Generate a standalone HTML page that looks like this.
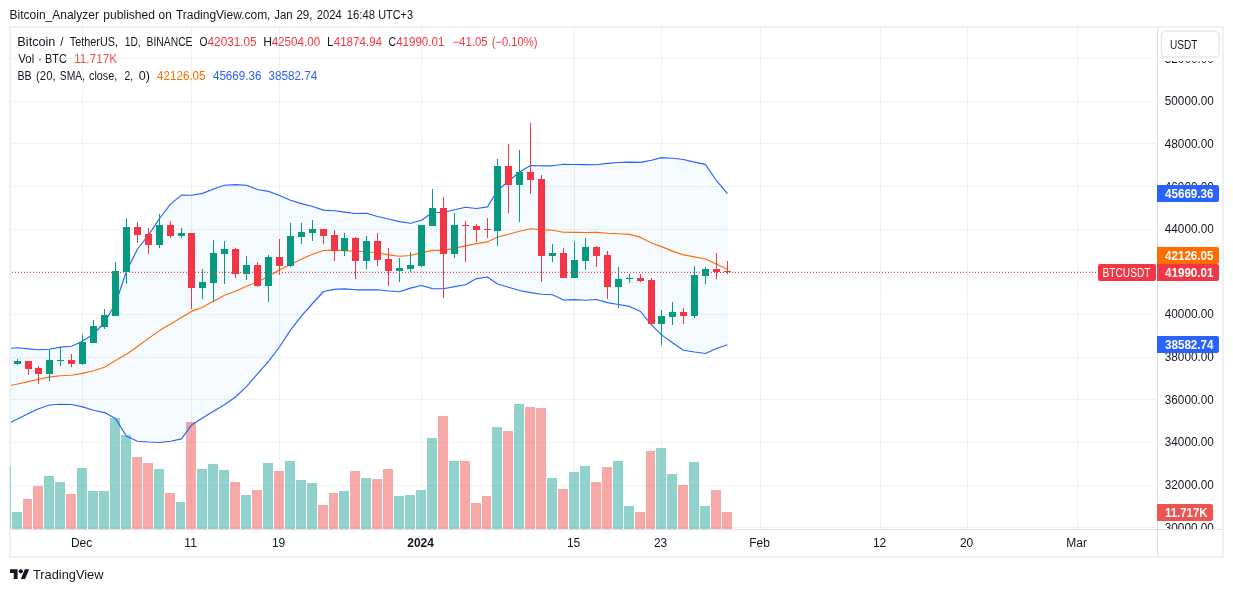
<!DOCTYPE html>
<html><head><meta charset="utf-8"><title>BTCUSDT</title>
<style>html,body{margin:0;padding:0;background:#fff;width:1233px;height:592px;overflow:hidden}</style></head>
<body>
<svg width="1233" height="592" viewBox="0 0 1233 592" style="position:absolute;left:0;top:0;will-change:transform;font-family:'Liberation Sans',sans-serif">
<rect x="0" y="0" width="1233" height="592" fill="#fff"/>
<rect x="10" y="27" width="1213" height="530" fill="#fff" stroke="#eff0f5" stroke-width="2" shape-rendering="crispEdges"/>
<defs><clipPath id="pane"><rect x="11" y="28" width="1146" height="501"/></clipPath><clipPath id="axis"><rect x="1158" y="28" width="64" height="501"/></clipPath></defs>
<g shape-rendering="crispEdges" fill="#222b28" fill-opacity="0.065">
<rect x="11" y="58" width="1146" height="1"/>
<rect x="11" y="101" width="1146" height="1"/>
<rect x="11" y="143" width="1146" height="1"/>
<rect x="11" y="186" width="1146" height="1"/>
<rect x="11" y="229" width="1146" height="1"/>
<rect x="11" y="271" width="1146" height="1"/>
<rect x="11" y="314" width="1146" height="1"/>
<rect x="11" y="357" width="1146" height="1"/>
<rect x="11" y="399" width="1146" height="1"/>
<rect x="11" y="442" width="1146" height="1"/>
<rect x="11" y="485" width="1146" height="1"/>
<rect x="11" y="527" width="1146" height="1"/>
<rect x="82" y="28" width="1" height="501"/>
<rect x="191" y="28" width="1" height="501"/>
<rect x="279" y="28" width="1" height="501"/>
<rect x="421" y="28" width="1" height="501"/>
<rect x="574" y="28" width="1" height="501"/>
<rect x="661" y="28" width="1" height="501"/>
<rect x="760" y="28" width="1" height="501"/>
<rect x="880" y="28" width="1" height="501"/>
<rect x="967" y="28" width="1" height="501"/>
<rect x="1077" y="28" width="1" height="501"/>
</g>
<g shape-rendering="crispEdges" clip-path="url(#pane)">
<rect x="1" y="466" width="10" height="63" fill="#26a69a" fill-opacity="0.5"/>
<rect x="12" y="512" width="10" height="17" fill="#26a69a" fill-opacity="0.5"/>
<rect x="23" y="499" width="9" height="30" fill="#ef5350" fill-opacity="0.5"/>
<rect x="33" y="486" width="10" height="43" fill="#ef5350" fill-opacity="0.5"/>
<rect x="44" y="476" width="10" height="53" fill="#26a69a" fill-opacity="0.5"/>
<rect x="55" y="482" width="10" height="47" fill="#26a69a" fill-opacity="0.5"/>
<rect x="66" y="494" width="10" height="35" fill="#ef5350" fill-opacity="0.5"/>
<rect x="77" y="468" width="10" height="61" fill="#26a69a" fill-opacity="0.5"/>
<rect x="88" y="491" width="10" height="38" fill="#26a69a" fill-opacity="0.5"/>
<rect x="99" y="491" width="10" height="38" fill="#26a69a" fill-opacity="0.5"/>
<rect x="110" y="418" width="10" height="111" fill="#26a69a" fill-opacity="0.5"/>
<rect x="121" y="435" width="10" height="94" fill="#26a69a" fill-opacity="0.5"/>
<rect x="132" y="457" width="10" height="72" fill="#ef5350" fill-opacity="0.5"/>
<rect x="143" y="463" width="10" height="66" fill="#ef5350" fill-opacity="0.5"/>
<rect x="154" y="469" width="10" height="60" fill="#26a69a" fill-opacity="0.5"/>
<rect x="165" y="493" width="10" height="36" fill="#ef5350" fill-opacity="0.5"/>
<rect x="176" y="502" width="9" height="27" fill="#26a69a" fill-opacity="0.5"/>
<rect x="186" y="422" width="10" height="107" fill="#ef5350" fill-opacity="0.5"/>
<rect x="197" y="469" width="10" height="60" fill="#26a69a" fill-opacity="0.5"/>
<rect x="208" y="464" width="10" height="65" fill="#26a69a" fill-opacity="0.5"/>
<rect x="219" y="470" width="10" height="59" fill="#26a69a" fill-opacity="0.5"/>
<rect x="230" y="482" width="10" height="47" fill="#ef5350" fill-opacity="0.5"/>
<rect x="241" y="495" width="10" height="34" fill="#26a69a" fill-opacity="0.5"/>
<rect x="252" y="490" width="10" height="39" fill="#ef5350" fill-opacity="0.5"/>
<rect x="263" y="463" width="10" height="66" fill="#26a69a" fill-opacity="0.5"/>
<rect x="274" y="471" width="10" height="58" fill="#ef5350" fill-opacity="0.5"/>
<rect x="285" y="461" width="10" height="68" fill="#26a69a" fill-opacity="0.5"/>
<rect x="296" y="480" width="10" height="49" fill="#26a69a" fill-opacity="0.5"/>
<rect x="307" y="483" width="10" height="46" fill="#26a69a" fill-opacity="0.5"/>
<rect x="318" y="505" width="10" height="24" fill="#ef5350" fill-opacity="0.5"/>
<rect x="329" y="493" width="9" height="36" fill="#ef5350" fill-opacity="0.5"/>
<rect x="339" y="491" width="10" height="38" fill="#26a69a" fill-opacity="0.5"/>
<rect x="350" y="471" width="10" height="58" fill="#ef5350" fill-opacity="0.5"/>
<rect x="361" y="478" width="10" height="51" fill="#26a69a" fill-opacity="0.5"/>
<rect x="372" y="479" width="10" height="50" fill="#ef5350" fill-opacity="0.5"/>
<rect x="383" y="469" width="10" height="60" fill="#ef5350" fill-opacity="0.5"/>
<rect x="394" y="496" width="10" height="33" fill="#26a69a" fill-opacity="0.5"/>
<rect x="405" y="495" width="10" height="34" fill="#26a69a" fill-opacity="0.5"/>
<rect x="416" y="490" width="10" height="39" fill="#26a69a" fill-opacity="0.5"/>
<rect x="427" y="438" width="10" height="91" fill="#26a69a" fill-opacity="0.5"/>
<rect x="438" y="416" width="10" height="113" fill="#ef5350" fill-opacity="0.5"/>
<rect x="449" y="461" width="10" height="68" fill="#26a69a" fill-opacity="0.5"/>
<rect x="460" y="461" width="10" height="68" fill="#ef5350" fill-opacity="0.5"/>
<rect x="471" y="503" width="10" height="26" fill="#ef5350" fill-opacity="0.5"/>
<rect x="482" y="496" width="9" height="33" fill="#ef5350" fill-opacity="0.5"/>
<rect x="492" y="427" width="10" height="102" fill="#26a69a" fill-opacity="0.5"/>
<rect x="503" y="431" width="10" height="98" fill="#ef5350" fill-opacity="0.5"/>
<rect x="514" y="404" width="10" height="125" fill="#26a69a" fill-opacity="0.5"/>
<rect x="525" y="407" width="10" height="122" fill="#ef5350" fill-opacity="0.5"/>
<rect x="536" y="408" width="10" height="121" fill="#ef5350" fill-opacity="0.5"/>
<rect x="547" y="478" width="10" height="51" fill="#26a69a" fill-opacity="0.5"/>
<rect x="558" y="489" width="10" height="40" fill="#ef5350" fill-opacity="0.5"/>
<rect x="569" y="472" width="10" height="57" fill="#26a69a" fill-opacity="0.5"/>
<rect x="580" y="466" width="10" height="63" fill="#26a69a" fill-opacity="0.5"/>
<rect x="591" y="482" width="10" height="47" fill="#ef5350" fill-opacity="0.5"/>
<rect x="602" y="467" width="10" height="62" fill="#ef5350" fill-opacity="0.5"/>
<rect x="613" y="461" width="10" height="68" fill="#26a69a" fill-opacity="0.5"/>
<rect x="624" y="506" width="10" height="23" fill="#26a69a" fill-opacity="0.5"/>
<rect x="635" y="512" width="10" height="17" fill="#ef5350" fill-opacity="0.5"/>
<rect x="646" y="451" width="9" height="78" fill="#ef5350" fill-opacity="0.5"/>
<rect x="656" y="448" width="10" height="81" fill="#26a69a" fill-opacity="0.5"/>
<rect x="667" y="474" width="10" height="55" fill="#26a69a" fill-opacity="0.5"/>
<rect x="678" y="485" width="10" height="44" fill="#ef5350" fill-opacity="0.5"/>
<rect x="689" y="462" width="10" height="67" fill="#26a69a" fill-opacity="0.5"/>
<rect x="700" y="506" width="10" height="23" fill="#26a69a" fill-opacity="0.5"/>
<rect x="711" y="490" width="10" height="39" fill="#ef5350" fill-opacity="0.5"/>
<rect x="722" y="512" width="10" height="17" fill="#ef5350" fill-opacity="0.5"/>
</g>
<rect x="10" y="466" width="1" height="63" fill="#92d2cc" shape-rendering="crispEdges"/>
<g clip-path="url(#pane)">
<polygon points="6.0,348.6 17.5,347.8 28.5,348.9 38.5,349.7 49.5,349.2 60.5,347.1 71.5,346.2 82.5,341.3 93.5,334.0 104.5,322.5 115.5,303.5 126.5,271.3 137.5,249.0 148.5,235.1 159.5,218.5 170.5,204.1 181.5,195.1 191.5,195.3 202.5,193.4 213.5,189.0 224.5,185.3 235.5,184.6 246.5,185.3 257.5,189.5 268.5,191.4 279.5,195.5 290.5,200.2 301.5,203.6 312.5,206.5 323.5,210.1 334.5,210.7 344.5,212.1 355.5,213.5 366.5,213.2 377.5,216.5 388.5,219.0 399.5,221.6 410.5,223.2 421.5,220.3 432.5,212.5 443.5,212.5 454.5,209.8 465.5,207.2 476.5,208.5 487.5,206.9 497.5,190.5 508.5,181.3 519.5,172.0 530.5,165.5 541.5,165.8 552.5,165.8 563.5,164.3 574.5,164.5 585.5,164.6 596.5,164.8 607.5,163.4 618.5,162.5 629.5,162.1 640.5,162.4 651.5,160.2 661.5,157.6 672.5,158.2 683.5,159.5 694.5,162.1 705.5,164.4 716.5,180.7 727.5,193.6 727.5,344.8 716.5,348.5 705.5,353.5 694.5,352.0 683.5,350.2 672.5,342.7 661.5,334.9 651.5,324.9 640.5,311.5 629.5,306.4 618.5,304.5 607.5,302.6 596.5,299.5 585.5,300.2 574.5,299.6 563.5,300.0 552.5,294.8 541.5,294.3 530.5,292.6 519.5,290.5 508.5,287.2 497.5,284.0 487.5,277.0 476.5,278.6 465.5,284.7 454.5,286.6 443.5,288.8 432.5,288.6 421.5,285.5 410.5,288.1 399.5,291.7 388.5,291.0 377.5,289.8 366.5,289.8 355.5,289.8 344.5,288.9 334.5,289.4 323.5,291.5 312.5,303.5 301.5,315.8 290.5,330.1 279.5,347.0 268.5,361.3 257.5,373.8 246.5,386.6 235.5,397.0 224.5,404.8 213.5,411.3 202.5,418.0 191.5,425.1 181.5,438.9 170.5,441.2 159.5,442.5 148.5,442.0 137.5,441.2 126.5,436.3 115.5,418.6 104.5,412.6 93.5,410.2 82.5,406.9 71.5,404.5 60.5,404.3 49.5,405.0 38.5,408.7 28.5,413.4 17.5,419.1 6.0,424.5" fill="#2196f3" fill-opacity="0.05"/>
<polyline points="6.0,348.6 17.5,347.8 28.5,348.9 38.5,349.7 49.5,349.2 60.5,347.1 71.5,346.2 82.5,341.3 93.5,334.0 104.5,322.5 115.5,303.5 126.5,271.3 137.5,249.0 148.5,235.1 159.5,218.5 170.5,204.1 181.5,195.1 191.5,195.3 202.5,193.4 213.5,189.0 224.5,185.3 235.5,184.6 246.5,185.3 257.5,189.5 268.5,191.4 279.5,195.5 290.5,200.2 301.5,203.6 312.5,206.5 323.5,210.1 334.5,210.7 344.5,212.1 355.5,213.5 366.5,213.2 377.5,216.5 388.5,219.0 399.5,221.6 410.5,223.2 421.5,220.3 432.5,212.5 443.5,212.5 454.5,209.8 465.5,207.2 476.5,208.5 487.5,206.9 497.5,190.5 508.5,181.3 519.5,172.0 530.5,165.5 541.5,165.8 552.5,165.8 563.5,164.3 574.5,164.5 585.5,164.6 596.5,164.8 607.5,163.4 618.5,162.5 629.5,162.1 640.5,162.4 651.5,160.2 661.5,157.6 672.5,158.2 683.5,159.5 694.5,162.1 705.5,164.4 716.5,180.7 727.5,193.6" fill="none" stroke="#2962ff" stroke-width="1.15" stroke-linejoin="round"/>
<polyline points="6.0,424.5 17.5,419.1 28.5,413.4 38.5,408.7 49.5,405.0 60.5,404.3 71.5,404.5 82.5,406.9 93.5,410.2 104.5,412.6 115.5,418.6 126.5,436.3 137.5,441.2 148.5,442.0 159.5,442.5 170.5,441.2 181.5,438.9 191.5,425.1 202.5,418.0 213.5,411.3 224.5,404.8 235.5,397.0 246.5,386.6 257.5,373.8 268.5,361.3 279.5,347.0 290.5,330.1 301.5,315.8 312.5,303.5 323.5,291.5 334.5,289.4 344.5,288.9 355.5,289.8 366.5,289.8 377.5,289.8 388.5,291.0 399.5,291.7 410.5,288.1 421.5,285.5 432.5,288.6 443.5,288.8 454.5,286.6 465.5,284.7 476.5,278.6 487.5,277.0 497.5,284.0 508.5,287.2 519.5,290.5 530.5,292.6 541.5,294.3 552.5,294.8 563.5,300.0 574.5,299.6 585.5,300.2 596.5,299.5 607.5,302.6 618.5,304.5 629.5,306.4 640.5,311.5 651.5,324.9 661.5,334.9 672.5,342.7 683.5,350.2 694.5,352.0 705.5,353.5 716.5,348.5 727.5,344.8" fill="none" stroke="#2962ff" stroke-width="1.15" stroke-linejoin="round"/>
<polyline points="6.0,386.2 17.5,384.0 28.5,381.6 38.5,379.2 49.5,377.1 60.5,375.8 71.5,375.2 82.5,373.4 93.5,370.8 104.5,367.2 115.5,360.6 126.5,354.3 137.5,346.5 148.5,338.4 159.5,330.6 170.5,324.1 181.5,317.6 191.5,311.4 202.5,307.2 213.5,301.2 224.5,295.3 235.5,291.2 246.5,286.3 257.5,281.9 268.5,276.3 279.5,270.1 290.5,264.5 301.5,259.0 312.5,254.3 323.5,250.5 334.5,250.1 344.5,250.8 355.5,251.3 366.5,251.7 377.5,252.8 388.5,254.9 399.5,256.3 410.5,255.5 421.5,252.6 432.5,250.4 443.5,250.4 454.5,248.1 465.5,245.9 476.5,243.6 487.5,241.9 497.5,237.0 508.5,234.2 519.5,231.3 530.5,228.8 541.5,229.9 552.5,230.2 563.5,232.3 574.5,232.4 585.5,232.5 596.5,232.4 607.5,233.2 618.5,233.7 629.5,234.4 640.5,237.4 651.5,243.0 661.5,246.6 672.5,251.1 683.5,254.9 694.5,256.9 705.5,259.0 716.5,264.2 727.5,269.2" fill="none" stroke="#ff6d00" stroke-width="1.15" stroke-linejoin="round"/>
</g>
<g shape-rendering="crispEdges">
<rect x="17" y="359" width="1" height="6" fill="#089981"/>
<rect x="14" y="361" width="7" height="3" fill="#089981"/>
<rect x="28" y="361" width="1" height="14" fill="#f23645"/>
<rect x="25" y="361" width="7" height="8" fill="#f23645"/>
<rect x="38" y="366" width="1" height="18" fill="#f23645"/>
<rect x="35" y="368" width="7" height="6" fill="#f23645"/>
<rect x="49" y="349" width="1" height="32" fill="#089981"/>
<rect x="46" y="360" width="7" height="14" fill="#089981"/>
<rect x="60" y="347" width="1" height="19" fill="#089981"/>
<rect x="57" y="360" width="7" height="1" fill="#089981"/>
<rect x="71" y="354" width="1" height="13" fill="#f23645"/>
<rect x="68" y="360" width="7" height="4" fill="#f23645"/>
<rect x="82" y="335" width="1" height="30" fill="#089981"/>
<rect x="79" y="342" width="7" height="22" fill="#089981"/>
<rect x="93" y="320" width="1" height="23" fill="#089981"/>
<rect x="90" y="326" width="7" height="17" fill="#089981"/>
<rect x="104" y="309" width="1" height="20" fill="#089981"/>
<rect x="101" y="315" width="7" height="12" fill="#089981"/>
<rect x="115" y="262" width="1" height="54" fill="#089981"/>
<rect x="112" y="271" width="7" height="45" fill="#089981"/>
<rect x="126" y="218" width="1" height="66" fill="#089981"/>
<rect x="123" y="227" width="7" height="45" fill="#089981"/>
<rect x="137" y="222" width="1" height="21" fill="#f23645"/>
<rect x="134" y="227" width="7" height="8" fill="#f23645"/>
<rect x="148" y="228" width="1" height="26" fill="#f23645"/>
<rect x="145" y="234" width="7" height="11" fill="#f23645"/>
<rect x="159" y="214" width="1" height="34" fill="#089981"/>
<rect x="156" y="225" width="7" height="20" fill="#089981"/>
<rect x="170" y="221" width="1" height="17" fill="#f23645"/>
<rect x="167" y="225" width="7" height="11" fill="#f23645"/>
<rect x="181" y="228" width="1" height="10" fill="#089981"/>
<rect x="178" y="233" width="7" height="3" fill="#089981"/>
<rect x="191" y="233" width="1" height="76" fill="#f23645"/>
<rect x="188" y="233" width="7" height="55" fill="#f23645"/>
<rect x="202" y="269" width="1" height="30" fill="#089981"/>
<rect x="199" y="282" width="7" height="6" fill="#089981"/>
<rect x="213" y="240" width="1" height="62" fill="#089981"/>
<rect x="210" y="253" width="7" height="30" fill="#089981"/>
<rect x="224" y="241" width="1" height="43" fill="#089981"/>
<rect x="221" y="249" width="7" height="5" fill="#089981"/>
<rect x="235" y="248" width="1" height="30" fill="#f23645"/>
<rect x="232" y="249" width="7" height="25" fill="#f23645"/>
<rect x="246" y="256" width="1" height="24" fill="#089981"/>
<rect x="243" y="265" width="7" height="9" fill="#089981"/>
<rect x="257" y="262" width="1" height="25" fill="#f23645"/>
<rect x="254" y="265" width="7" height="21" fill="#f23645"/>
<rect x="268" y="255" width="1" height="47" fill="#089981"/>
<rect x="265" y="257" width="7" height="29" fill="#089981"/>
<rect x="279" y="239" width="1" height="36" fill="#f23645"/>
<rect x="276" y="257" width="7" height="9" fill="#f23645"/>
<rect x="290" y="223" width="1" height="44" fill="#089981"/>
<rect x="287" y="236" width="7" height="30" fill="#089981"/>
<rect x="301" y="223" width="1" height="21" fill="#089981"/>
<rect x="298" y="232" width="7" height="5" fill="#089981"/>
<rect x="312" y="220" width="1" height="21" fill="#089981"/>
<rect x="309" y="229" width="7" height="4" fill="#089981"/>
<rect x="323" y="229" width="1" height="15" fill="#f23645"/>
<rect x="320" y="229" width="7" height="7" fill="#f23645"/>
<rect x="334" y="230" width="1" height="31" fill="#f23645"/>
<rect x="331" y="235" width="7" height="16" fill="#f23645"/>
<rect x="344" y="233" width="1" height="23" fill="#089981"/>
<rect x="341" y="238" width="7" height="13" fill="#089981"/>
<rect x="355" y="237" width="1" height="42" fill="#f23645"/>
<rect x="352" y="238" width="7" height="23" fill="#f23645"/>
<rect x="366" y="236" width="1" height="33" fill="#089981"/>
<rect x="363" y="241" width="7" height="20" fill="#089981"/>
<rect x="377" y="233" width="1" height="33" fill="#f23645"/>
<rect x="374" y="241" width="7" height="19" fill="#f23645"/>
<rect x="388" y="248" width="1" height="38" fill="#f23645"/>
<rect x="385" y="259" width="7" height="12" fill="#f23645"/>
<rect x="399" y="258" width="1" height="24" fill="#089981"/>
<rect x="396" y="268" width="7" height="3" fill="#089981"/>
<rect x="410" y="252" width="1" height="20" fill="#089981"/>
<rect x="407" y="265" width="7" height="4" fill="#089981"/>
<rect x="421" y="225" width="1" height="42" fill="#089981"/>
<rect x="418" y="225" width="7" height="41" fill="#089981"/>
<rect x="432" y="189" width="1" height="37" fill="#089981"/>
<rect x="429" y="208" width="7" height="18" fill="#089981"/>
<rect x="443" y="197" width="1" height="101" fill="#f23645"/>
<rect x="440" y="208" width="7" height="46" fill="#f23645"/>
<rect x="454" y="213" width="1" height="45" fill="#089981"/>
<rect x="451" y="225" width="7" height="29" fill="#089981"/>
<rect x="465" y="221" width="1" height="41" fill="#f23645"/>
<rect x="462" y="225" width="7" height="1" fill="#f23645"/>
<rect x="476" y="224" width="1" height="18" fill="#f23645"/>
<rect x="473" y="226" width="7" height="4" fill="#f23645"/>
<rect x="487" y="218" width="1" height="20" fill="#f23645"/>
<rect x="484" y="229" width="7" height="1" fill="#f23645"/>
<rect x="497" y="159" width="1" height="87" fill="#089981"/>
<rect x="494" y="166" width="7" height="65" fill="#089981"/>
<rect x="508" y="144" width="1" height="69" fill="#f23645"/>
<rect x="505" y="166" width="7" height="19" fill="#f23645"/>
<rect x="519" y="150" width="1" height="72" fill="#089981"/>
<rect x="516" y="172" width="7" height="13" fill="#089981"/>
<rect x="530" y="123" width="1" height="71" fill="#f23645"/>
<rect x="527" y="172" width="7" height="8" fill="#f23645"/>
<rect x="541" y="175" width="1" height="107" fill="#f23645"/>
<rect x="538" y="179" width="7" height="77" fill="#f23645"/>
<rect x="552" y="244" width="1" height="18" fill="#089981"/>
<rect x="549" y="253" width="7" height="3" fill="#089981"/>
<rect x="563" y="248" width="1" height="30" fill="#f23645"/>
<rect x="560" y="253" width="7" height="25" fill="#f23645"/>
<rect x="574" y="241" width="1" height="37" fill="#089981"/>
<rect x="571" y="260" width="7" height="18" fill="#089981"/>
<rect x="585" y="238" width="1" height="32" fill="#089981"/>
<rect x="582" y="247" width="7" height="14" fill="#089981"/>
<rect x="596" y="246" width="1" height="21" fill="#f23645"/>
<rect x="593" y="247" width="7" height="9" fill="#f23645"/>
<rect x="607" y="251" width="1" height="48" fill="#f23645"/>
<rect x="604" y="255" width="7" height="32" fill="#f23645"/>
<rect x="618" y="267" width="1" height="41" fill="#089981"/>
<rect x="615" y="279" width="7" height="8" fill="#089981"/>
<rect x="629" y="274" width="1" height="9" fill="#089981"/>
<rect x="626" y="278" width="7" height="1" fill="#089981"/>
<rect x="640" y="274" width="1" height="8" fill="#f23645"/>
<rect x="637" y="278" width="7" height="3" fill="#f23645"/>
<rect x="651" y="278" width="1" height="47" fill="#f23645"/>
<rect x="648" y="280" width="7" height="44" fill="#f23645"/>
<rect x="661" y="310" width="1" height="35" fill="#089981"/>
<rect x="658" y="316" width="7" height="8" fill="#089981"/>
<rect x="672" y="302" width="1" height="23" fill="#089981"/>
<rect x="669" y="312" width="7" height="5" fill="#089981"/>
<rect x="683" y="308" width="1" height="16" fill="#f23645"/>
<rect x="680" y="312" width="7" height="4" fill="#f23645"/>
<rect x="694" y="266" width="1" height="52" fill="#089981"/>
<rect x="691" y="275" width="7" height="41" fill="#089981"/>
<rect x="705" y="267" width="1" height="17" fill="#089981"/>
<rect x="702" y="269" width="7" height="7" fill="#089981"/>
<rect x="716" y="253" width="1" height="26" fill="#f23645"/>
<rect x="713" y="269" width="7" height="3" fill="#f23645"/>
<rect x="727" y="261" width="1" height="13" fill="#f23645"/>
<rect x="724" y="271" width="7" height="1" fill="#f23645"/>
<rect x="12" y="272" width="1" height="1" fill="#f23645"/>
<rect x="15" y="272" width="1" height="1" fill="#f23645"/>
<rect x="18" y="272" width="1" height="1" fill="#f23645"/>
<rect x="21" y="272" width="1" height="1" fill="#f23645"/>
<rect x="24" y="272" width="1" height="1" fill="#f23645"/>
<rect x="27" y="272" width="1" height="1" fill="#f23645"/>
<rect x="30" y="272" width="1" height="1" fill="#f23645"/>
<rect x="33" y="272" width="1" height="1" fill="#f23645"/>
<rect x="36" y="272" width="1" height="1" fill="#f23645"/>
<rect x="39" y="272" width="1" height="1" fill="#f23645"/>
<rect x="42" y="272" width="1" height="1" fill="#f23645"/>
<rect x="45" y="272" width="1" height="1" fill="#f23645"/>
<rect x="48" y="272" width="1" height="1" fill="#f23645"/>
<rect x="51" y="272" width="1" height="1" fill="#f23645"/>
<rect x="54" y="272" width="1" height="1" fill="#f23645"/>
<rect x="57" y="272" width="1" height="1" fill="#f23645"/>
<rect x="60" y="272" width="1" height="1" fill="#f23645"/>
<rect x="63" y="272" width="1" height="1" fill="#f23645"/>
<rect x="66" y="272" width="1" height="1" fill="#f23645"/>
<rect x="69" y="272" width="1" height="1" fill="#f23645"/>
<rect x="72" y="272" width="1" height="1" fill="#f23645"/>
<rect x="75" y="272" width="1" height="1" fill="#f23645"/>
<rect x="78" y="272" width="1" height="1" fill="#f23645"/>
<rect x="81" y="272" width="1" height="1" fill="#f23645"/>
<rect x="84" y="272" width="1" height="1" fill="#f23645"/>
<rect x="87" y="272" width="1" height="1" fill="#f23645"/>
<rect x="90" y="272" width="1" height="1" fill="#f23645"/>
<rect x="93" y="272" width="1" height="1" fill="#f23645"/>
<rect x="96" y="272" width="1" height="1" fill="#f23645"/>
<rect x="99" y="272" width="1" height="1" fill="#f23645"/>
<rect x="102" y="272" width="1" height="1" fill="#f23645"/>
<rect x="105" y="272" width="1" height="1" fill="#f23645"/>
<rect x="108" y="272" width="1" height="1" fill="#f23645"/>
<rect x="111" y="272" width="1" height="1" fill="#f23645"/>
<rect x="114" y="272" width="1" height="1" fill="#f23645"/>
<rect x="117" y="272" width="1" height="1" fill="#f23645"/>
<rect x="120" y="272" width="1" height="1" fill="#f23645"/>
<rect x="123" y="272" width="1" height="1" fill="#f23645"/>
<rect x="126" y="272" width="1" height="1" fill="#f23645"/>
<rect x="129" y="272" width="1" height="1" fill="#f23645"/>
<rect x="132" y="272" width="1" height="1" fill="#f23645"/>
<rect x="135" y="272" width="1" height="1" fill="#f23645"/>
<rect x="138" y="272" width="1" height="1" fill="#f23645"/>
<rect x="141" y="272" width="1" height="1" fill="#f23645"/>
<rect x="144" y="272" width="1" height="1" fill="#f23645"/>
<rect x="147" y="272" width="1" height="1" fill="#f23645"/>
<rect x="150" y="272" width="1" height="1" fill="#f23645"/>
<rect x="153" y="272" width="1" height="1" fill="#f23645"/>
<rect x="156" y="272" width="1" height="1" fill="#f23645"/>
<rect x="159" y="272" width="1" height="1" fill="#f23645"/>
<rect x="162" y="272" width="1" height="1" fill="#f23645"/>
<rect x="165" y="272" width="1" height="1" fill="#f23645"/>
<rect x="168" y="272" width="1" height="1" fill="#f23645"/>
<rect x="171" y="272" width="1" height="1" fill="#f23645"/>
<rect x="174" y="272" width="1" height="1" fill="#f23645"/>
<rect x="177" y="272" width="1" height="1" fill="#f23645"/>
<rect x="180" y="272" width="1" height="1" fill="#f23645"/>
<rect x="183" y="272" width="1" height="1" fill="#f23645"/>
<rect x="186" y="272" width="1" height="1" fill="#f23645"/>
<rect x="189" y="272" width="1" height="1" fill="#f23645"/>
<rect x="192" y="272" width="1" height="1" fill="#f23645"/>
<rect x="195" y="272" width="1" height="1" fill="#f23645"/>
<rect x="198" y="272" width="1" height="1" fill="#f23645"/>
<rect x="201" y="272" width="1" height="1" fill="#f23645"/>
<rect x="204" y="272" width="1" height="1" fill="#f23645"/>
<rect x="207" y="272" width="1" height="1" fill="#f23645"/>
<rect x="210" y="272" width="1" height="1" fill="#f23645"/>
<rect x="213" y="272" width="1" height="1" fill="#f23645"/>
<rect x="216" y="272" width="1" height="1" fill="#f23645"/>
<rect x="219" y="272" width="1" height="1" fill="#f23645"/>
<rect x="222" y="272" width="1" height="1" fill="#f23645"/>
<rect x="225" y="272" width="1" height="1" fill="#f23645"/>
<rect x="228" y="272" width="1" height="1" fill="#f23645"/>
<rect x="231" y="272" width="1" height="1" fill="#f23645"/>
<rect x="234" y="272" width="1" height="1" fill="#f23645"/>
<rect x="237" y="272" width="1" height="1" fill="#f23645"/>
<rect x="240" y="272" width="1" height="1" fill="#f23645"/>
<rect x="243" y="272" width="1" height="1" fill="#f23645"/>
<rect x="246" y="272" width="1" height="1" fill="#f23645"/>
<rect x="249" y="272" width="1" height="1" fill="#f23645"/>
<rect x="252" y="272" width="1" height="1" fill="#f23645"/>
<rect x="255" y="272" width="1" height="1" fill="#f23645"/>
<rect x="258" y="272" width="1" height="1" fill="#f23645"/>
<rect x="261" y="272" width="1" height="1" fill="#f23645"/>
<rect x="264" y="272" width="1" height="1" fill="#f23645"/>
<rect x="267" y="272" width="1" height="1" fill="#f23645"/>
<rect x="270" y="272" width="1" height="1" fill="#f23645"/>
<rect x="273" y="272" width="1" height="1" fill="#f23645"/>
<rect x="276" y="272" width="1" height="1" fill="#f23645"/>
<rect x="279" y="272" width="1" height="1" fill="#f23645"/>
<rect x="282" y="272" width="1" height="1" fill="#f23645"/>
<rect x="285" y="272" width="1" height="1" fill="#f23645"/>
<rect x="288" y="272" width="1" height="1" fill="#f23645"/>
<rect x="291" y="272" width="1" height="1" fill="#f23645"/>
<rect x="294" y="272" width="1" height="1" fill="#f23645"/>
<rect x="297" y="272" width="1" height="1" fill="#f23645"/>
<rect x="300" y="272" width="1" height="1" fill="#f23645"/>
<rect x="303" y="272" width="1" height="1" fill="#f23645"/>
<rect x="306" y="272" width="1" height="1" fill="#f23645"/>
<rect x="309" y="272" width="1" height="1" fill="#f23645"/>
<rect x="312" y="272" width="1" height="1" fill="#f23645"/>
<rect x="315" y="272" width="1" height="1" fill="#f23645"/>
<rect x="318" y="272" width="1" height="1" fill="#f23645"/>
<rect x="321" y="272" width="1" height="1" fill="#f23645"/>
<rect x="324" y="272" width="1" height="1" fill="#f23645"/>
<rect x="327" y="272" width="1" height="1" fill="#f23645"/>
<rect x="330" y="272" width="1" height="1" fill="#f23645"/>
<rect x="333" y="272" width="1" height="1" fill="#f23645"/>
<rect x="336" y="272" width="1" height="1" fill="#f23645"/>
<rect x="339" y="272" width="1" height="1" fill="#f23645"/>
<rect x="342" y="272" width="1" height="1" fill="#f23645"/>
<rect x="345" y="272" width="1" height="1" fill="#f23645"/>
<rect x="348" y="272" width="1" height="1" fill="#f23645"/>
<rect x="351" y="272" width="1" height="1" fill="#f23645"/>
<rect x="354" y="272" width="1" height="1" fill="#f23645"/>
<rect x="357" y="272" width="1" height="1" fill="#f23645"/>
<rect x="360" y="272" width="1" height="1" fill="#f23645"/>
<rect x="363" y="272" width="1" height="1" fill="#f23645"/>
<rect x="366" y="272" width="1" height="1" fill="#f23645"/>
<rect x="369" y="272" width="1" height="1" fill="#f23645"/>
<rect x="372" y="272" width="1" height="1" fill="#f23645"/>
<rect x="375" y="272" width="1" height="1" fill="#f23645"/>
<rect x="378" y="272" width="1" height="1" fill="#f23645"/>
<rect x="381" y="272" width="1" height="1" fill="#f23645"/>
<rect x="384" y="272" width="1" height="1" fill="#f23645"/>
<rect x="387" y="272" width="1" height="1" fill="#f23645"/>
<rect x="390" y="272" width="1" height="1" fill="#f23645"/>
<rect x="393" y="272" width="1" height="1" fill="#f23645"/>
<rect x="396" y="272" width="1" height="1" fill="#f23645"/>
<rect x="399" y="272" width="1" height="1" fill="#f23645"/>
<rect x="402" y="272" width="1" height="1" fill="#f23645"/>
<rect x="405" y="272" width="1" height="1" fill="#f23645"/>
<rect x="408" y="272" width="1" height="1" fill="#f23645"/>
<rect x="411" y="272" width="1" height="1" fill="#f23645"/>
<rect x="414" y="272" width="1" height="1" fill="#f23645"/>
<rect x="417" y="272" width="1" height="1" fill="#f23645"/>
<rect x="420" y="272" width="1" height="1" fill="#f23645"/>
<rect x="423" y="272" width="1" height="1" fill="#f23645"/>
<rect x="426" y="272" width="1" height="1" fill="#f23645"/>
<rect x="429" y="272" width="1" height="1" fill="#f23645"/>
<rect x="432" y="272" width="1" height="1" fill="#f23645"/>
<rect x="435" y="272" width="1" height="1" fill="#f23645"/>
<rect x="438" y="272" width="1" height="1" fill="#f23645"/>
<rect x="441" y="272" width="1" height="1" fill="#f23645"/>
<rect x="444" y="272" width="1" height="1" fill="#f23645"/>
<rect x="447" y="272" width="1" height="1" fill="#f23645"/>
<rect x="450" y="272" width="1" height="1" fill="#f23645"/>
<rect x="453" y="272" width="1" height="1" fill="#f23645"/>
<rect x="456" y="272" width="1" height="1" fill="#f23645"/>
<rect x="459" y="272" width="1" height="1" fill="#f23645"/>
<rect x="462" y="272" width="1" height="1" fill="#f23645"/>
<rect x="465" y="272" width="1" height="1" fill="#f23645"/>
<rect x="468" y="272" width="1" height="1" fill="#f23645"/>
<rect x="471" y="272" width="1" height="1" fill="#f23645"/>
<rect x="474" y="272" width="1" height="1" fill="#f23645"/>
<rect x="477" y="272" width="1" height="1" fill="#f23645"/>
<rect x="480" y="272" width="1" height="1" fill="#f23645"/>
<rect x="483" y="272" width="1" height="1" fill="#f23645"/>
<rect x="486" y="272" width="1" height="1" fill="#f23645"/>
<rect x="489" y="272" width="1" height="1" fill="#f23645"/>
<rect x="492" y="272" width="1" height="1" fill="#f23645"/>
<rect x="495" y="272" width="1" height="1" fill="#f23645"/>
<rect x="498" y="272" width="1" height="1" fill="#f23645"/>
<rect x="501" y="272" width="1" height="1" fill="#f23645"/>
<rect x="504" y="272" width="1" height="1" fill="#f23645"/>
<rect x="507" y="272" width="1" height="1" fill="#f23645"/>
<rect x="510" y="272" width="1" height="1" fill="#f23645"/>
<rect x="513" y="272" width="1" height="1" fill="#f23645"/>
<rect x="516" y="272" width="1" height="1" fill="#f23645"/>
<rect x="519" y="272" width="1" height="1" fill="#f23645"/>
<rect x="522" y="272" width="1" height="1" fill="#f23645"/>
<rect x="525" y="272" width="1" height="1" fill="#f23645"/>
<rect x="528" y="272" width="1" height="1" fill="#f23645"/>
<rect x="531" y="272" width="1" height="1" fill="#f23645"/>
<rect x="534" y="272" width="1" height="1" fill="#f23645"/>
<rect x="537" y="272" width="1" height="1" fill="#f23645"/>
<rect x="540" y="272" width="1" height="1" fill="#f23645"/>
<rect x="543" y="272" width="1" height="1" fill="#f23645"/>
<rect x="546" y="272" width="1" height="1" fill="#f23645"/>
<rect x="549" y="272" width="1" height="1" fill="#f23645"/>
<rect x="552" y="272" width="1" height="1" fill="#f23645"/>
<rect x="555" y="272" width="1" height="1" fill="#f23645"/>
<rect x="558" y="272" width="1" height="1" fill="#f23645"/>
<rect x="561" y="272" width="1" height="1" fill="#f23645"/>
<rect x="564" y="272" width="1" height="1" fill="#f23645"/>
<rect x="567" y="272" width="1" height="1" fill="#f23645"/>
<rect x="570" y="272" width="1" height="1" fill="#f23645"/>
<rect x="573" y="272" width="1" height="1" fill="#f23645"/>
<rect x="576" y="272" width="1" height="1" fill="#f23645"/>
<rect x="579" y="272" width="1" height="1" fill="#f23645"/>
<rect x="582" y="272" width="1" height="1" fill="#f23645"/>
<rect x="585" y="272" width="1" height="1" fill="#f23645"/>
<rect x="588" y="272" width="1" height="1" fill="#f23645"/>
<rect x="591" y="272" width="1" height="1" fill="#f23645"/>
<rect x="594" y="272" width="1" height="1" fill="#f23645"/>
<rect x="597" y="272" width="1" height="1" fill="#f23645"/>
<rect x="600" y="272" width="1" height="1" fill="#f23645"/>
<rect x="603" y="272" width="1" height="1" fill="#f23645"/>
<rect x="606" y="272" width="1" height="1" fill="#f23645"/>
<rect x="609" y="272" width="1" height="1" fill="#f23645"/>
<rect x="612" y="272" width="1" height="1" fill="#f23645"/>
<rect x="615" y="272" width="1" height="1" fill="#f23645"/>
<rect x="618" y="272" width="1" height="1" fill="#f23645"/>
<rect x="621" y="272" width="1" height="1" fill="#f23645"/>
<rect x="624" y="272" width="1" height="1" fill="#f23645"/>
<rect x="627" y="272" width="1" height="1" fill="#f23645"/>
<rect x="630" y="272" width="1" height="1" fill="#f23645"/>
<rect x="633" y="272" width="1" height="1" fill="#f23645"/>
<rect x="636" y="272" width="1" height="1" fill="#f23645"/>
<rect x="639" y="272" width="1" height="1" fill="#f23645"/>
<rect x="642" y="272" width="1" height="1" fill="#f23645"/>
<rect x="645" y="272" width="1" height="1" fill="#f23645"/>
<rect x="648" y="272" width="1" height="1" fill="#f23645"/>
<rect x="651" y="272" width="1" height="1" fill="#f23645"/>
<rect x="654" y="272" width="1" height="1" fill="#f23645"/>
<rect x="657" y="272" width="1" height="1" fill="#f23645"/>
<rect x="660" y="272" width="1" height="1" fill="#f23645"/>
<rect x="663" y="272" width="1" height="1" fill="#f23645"/>
<rect x="666" y="272" width="1" height="1" fill="#f23645"/>
<rect x="669" y="272" width="1" height="1" fill="#f23645"/>
<rect x="672" y="272" width="1" height="1" fill="#f23645"/>
<rect x="675" y="272" width="1" height="1" fill="#f23645"/>
<rect x="678" y="272" width="1" height="1" fill="#f23645"/>
<rect x="681" y="272" width="1" height="1" fill="#f23645"/>
<rect x="684" y="272" width="1" height="1" fill="#f23645"/>
<rect x="687" y="272" width="1" height="1" fill="#f23645"/>
<rect x="690" y="272" width="1" height="1" fill="#f23645"/>
<rect x="693" y="272" width="1" height="1" fill="#f23645"/>
<rect x="696" y="272" width="1" height="1" fill="#f23645"/>
<rect x="699" y="272" width="1" height="1" fill="#f23645"/>
<rect x="702" y="272" width="1" height="1" fill="#f23645"/>
<rect x="705" y="272" width="1" height="1" fill="#f23645"/>
<rect x="708" y="272" width="1" height="1" fill="#f23645"/>
<rect x="711" y="272" width="1" height="1" fill="#f23645"/>
<rect x="714" y="272" width="1" height="1" fill="#f23645"/>
<rect x="717" y="272" width="1" height="1" fill="#f23645"/>
<rect x="720" y="272" width="1" height="1" fill="#f23645"/>
<rect x="723" y="272" width="1" height="1" fill="#f23645"/>
<rect x="726" y="272" width="1" height="1" fill="#f23645"/>
<rect x="729" y="272" width="1" height="1" fill="#f23645"/>
<rect x="732" y="272" width="1" height="1" fill="#f23645"/>
<rect x="735" y="272" width="1" height="1" fill="#f23645"/>
<rect x="738" y="272" width="1" height="1" fill="#f23645"/>
<rect x="741" y="272" width="1" height="1" fill="#f23645"/>
<rect x="744" y="272" width="1" height="1" fill="#f23645"/>
<rect x="747" y="272" width="1" height="1" fill="#f23645"/>
<rect x="750" y="272" width="1" height="1" fill="#f23645"/>
<rect x="753" y="272" width="1" height="1" fill="#f23645"/>
<rect x="756" y="272" width="1" height="1" fill="#f23645"/>
<rect x="759" y="272" width="1" height="1" fill="#f23645"/>
<rect x="762" y="272" width="1" height="1" fill="#f23645"/>
<rect x="765" y="272" width="1" height="1" fill="#f23645"/>
<rect x="768" y="272" width="1" height="1" fill="#f23645"/>
<rect x="771" y="272" width="1" height="1" fill="#f23645"/>
<rect x="774" y="272" width="1" height="1" fill="#f23645"/>
<rect x="777" y="272" width="1" height="1" fill="#f23645"/>
<rect x="780" y="272" width="1" height="1" fill="#f23645"/>
<rect x="783" y="272" width="1" height="1" fill="#f23645"/>
<rect x="786" y="272" width="1" height="1" fill="#f23645"/>
<rect x="789" y="272" width="1" height="1" fill="#f23645"/>
<rect x="792" y="272" width="1" height="1" fill="#f23645"/>
<rect x="795" y="272" width="1" height="1" fill="#f23645"/>
<rect x="798" y="272" width="1" height="1" fill="#f23645"/>
<rect x="801" y="272" width="1" height="1" fill="#f23645"/>
<rect x="804" y="272" width="1" height="1" fill="#f23645"/>
<rect x="807" y="272" width="1" height="1" fill="#f23645"/>
<rect x="810" y="272" width="1" height="1" fill="#f23645"/>
<rect x="813" y="272" width="1" height="1" fill="#f23645"/>
<rect x="816" y="272" width="1" height="1" fill="#f23645"/>
<rect x="819" y="272" width="1" height="1" fill="#f23645"/>
<rect x="822" y="272" width="1" height="1" fill="#f23645"/>
<rect x="825" y="272" width="1" height="1" fill="#f23645"/>
<rect x="828" y="272" width="1" height="1" fill="#f23645"/>
<rect x="831" y="272" width="1" height="1" fill="#f23645"/>
<rect x="834" y="272" width="1" height="1" fill="#f23645"/>
<rect x="837" y="272" width="1" height="1" fill="#f23645"/>
<rect x="840" y="272" width="1" height="1" fill="#f23645"/>
<rect x="843" y="272" width="1" height="1" fill="#f23645"/>
<rect x="846" y="272" width="1" height="1" fill="#f23645"/>
<rect x="849" y="272" width="1" height="1" fill="#f23645"/>
<rect x="852" y="272" width="1" height="1" fill="#f23645"/>
<rect x="855" y="272" width="1" height="1" fill="#f23645"/>
<rect x="858" y="272" width="1" height="1" fill="#f23645"/>
<rect x="861" y="272" width="1" height="1" fill="#f23645"/>
<rect x="864" y="272" width="1" height="1" fill="#f23645"/>
<rect x="867" y="272" width="1" height="1" fill="#f23645"/>
<rect x="870" y="272" width="1" height="1" fill="#f23645"/>
<rect x="873" y="272" width="1" height="1" fill="#f23645"/>
<rect x="876" y="272" width="1" height="1" fill="#f23645"/>
<rect x="879" y="272" width="1" height="1" fill="#f23645"/>
<rect x="882" y="272" width="1" height="1" fill="#f23645"/>
<rect x="885" y="272" width="1" height="1" fill="#f23645"/>
<rect x="888" y="272" width="1" height="1" fill="#f23645"/>
<rect x="891" y="272" width="1" height="1" fill="#f23645"/>
<rect x="894" y="272" width="1" height="1" fill="#f23645"/>
<rect x="897" y="272" width="1" height="1" fill="#f23645"/>
<rect x="900" y="272" width="1" height="1" fill="#f23645"/>
<rect x="903" y="272" width="1" height="1" fill="#f23645"/>
<rect x="906" y="272" width="1" height="1" fill="#f23645"/>
<rect x="909" y="272" width="1" height="1" fill="#f23645"/>
<rect x="912" y="272" width="1" height="1" fill="#f23645"/>
<rect x="915" y="272" width="1" height="1" fill="#f23645"/>
<rect x="918" y="272" width="1" height="1" fill="#f23645"/>
<rect x="921" y="272" width="1" height="1" fill="#f23645"/>
<rect x="924" y="272" width="1" height="1" fill="#f23645"/>
<rect x="927" y="272" width="1" height="1" fill="#f23645"/>
<rect x="930" y="272" width="1" height="1" fill="#f23645"/>
<rect x="933" y="272" width="1" height="1" fill="#f23645"/>
<rect x="936" y="272" width="1" height="1" fill="#f23645"/>
<rect x="939" y="272" width="1" height="1" fill="#f23645"/>
<rect x="942" y="272" width="1" height="1" fill="#f23645"/>
<rect x="945" y="272" width="1" height="1" fill="#f23645"/>
<rect x="948" y="272" width="1" height="1" fill="#f23645"/>
<rect x="951" y="272" width="1" height="1" fill="#f23645"/>
<rect x="954" y="272" width="1" height="1" fill="#f23645"/>
<rect x="957" y="272" width="1" height="1" fill="#f23645"/>
<rect x="960" y="272" width="1" height="1" fill="#f23645"/>
<rect x="963" y="272" width="1" height="1" fill="#f23645"/>
<rect x="966" y="272" width="1" height="1" fill="#f23645"/>
<rect x="969" y="272" width="1" height="1" fill="#f23645"/>
<rect x="972" y="272" width="1" height="1" fill="#f23645"/>
<rect x="975" y="272" width="1" height="1" fill="#f23645"/>
<rect x="978" y="272" width="1" height="1" fill="#f23645"/>
<rect x="981" y="272" width="1" height="1" fill="#f23645"/>
<rect x="984" y="272" width="1" height="1" fill="#f23645"/>
<rect x="987" y="272" width="1" height="1" fill="#f23645"/>
<rect x="990" y="272" width="1" height="1" fill="#f23645"/>
<rect x="993" y="272" width="1" height="1" fill="#f23645"/>
<rect x="996" y="272" width="1" height="1" fill="#f23645"/>
<rect x="999" y="272" width="1" height="1" fill="#f23645"/>
<rect x="1002" y="272" width="1" height="1" fill="#f23645"/>
<rect x="1005" y="272" width="1" height="1" fill="#f23645"/>
<rect x="1008" y="272" width="1" height="1" fill="#f23645"/>
<rect x="1011" y="272" width="1" height="1" fill="#f23645"/>
<rect x="1014" y="272" width="1" height="1" fill="#f23645"/>
<rect x="1017" y="272" width="1" height="1" fill="#f23645"/>
<rect x="1020" y="272" width="1" height="1" fill="#f23645"/>
<rect x="1023" y="272" width="1" height="1" fill="#f23645"/>
<rect x="1026" y="272" width="1" height="1" fill="#f23645"/>
<rect x="1029" y="272" width="1" height="1" fill="#f23645"/>
<rect x="1032" y="272" width="1" height="1" fill="#f23645"/>
<rect x="1035" y="272" width="1" height="1" fill="#f23645"/>
<rect x="1038" y="272" width="1" height="1" fill="#f23645"/>
<rect x="1041" y="272" width="1" height="1" fill="#f23645"/>
<rect x="1044" y="272" width="1" height="1" fill="#f23645"/>
<rect x="1047" y="272" width="1" height="1" fill="#f23645"/>
<rect x="1050" y="272" width="1" height="1" fill="#f23645"/>
<rect x="1053" y="272" width="1" height="1" fill="#f23645"/>
<rect x="1056" y="272" width="1" height="1" fill="#f23645"/>
<rect x="1059" y="272" width="1" height="1" fill="#f23645"/>
<rect x="1062" y="272" width="1" height="1" fill="#f23645"/>
<rect x="1065" y="272" width="1" height="1" fill="#f23645"/>
<rect x="1068" y="272" width="1" height="1" fill="#f23645"/>
<rect x="1071" y="272" width="1" height="1" fill="#f23645"/>
<rect x="1074" y="272" width="1" height="1" fill="#f23645"/>
<rect x="1077" y="272" width="1" height="1" fill="#f23645"/>
<rect x="1080" y="272" width="1" height="1" fill="#f23645"/>
<rect x="1083" y="272" width="1" height="1" fill="#f23645"/>
<rect x="1086" y="272" width="1" height="1" fill="#f23645"/>
<rect x="1089" y="272" width="1" height="1" fill="#f23645"/>
<rect x="1092" y="272" width="1" height="1" fill="#f23645"/>
<rect x="1095" y="272" width="1" height="1" fill="#f23645"/>
</g>
<g shape-rendering="crispEdges" fill="#dfe0e6"><rect x="1157" y="28" width="1" height="528"/><rect x="11" y="529" width="1211" height="1"/></g>
<g clip-path="url(#axis)">
<text x="1164.8" y="63" font-size="12" fill="#131722" font-weight="normal" text-anchor="start" textLength="49" lengthAdjust="spacingAndGlyphs">52000.00</text>
<text x="1164.8" y="105" font-size="12" fill="#131722" font-weight="normal" text-anchor="start" textLength="49" lengthAdjust="spacingAndGlyphs">50000.00</text>
<text x="1164.8" y="148" font-size="12" fill="#131722" font-weight="normal" text-anchor="start" textLength="49" lengthAdjust="spacingAndGlyphs">48000.00</text>
<text x="1164.8" y="190.5" font-size="12" fill="#131722" font-weight="normal" text-anchor="start" textLength="49" lengthAdjust="spacingAndGlyphs">46000.00</text>
<text x="1164.8" y="233" font-size="12" fill="#131722" font-weight="normal" text-anchor="start" textLength="49" lengthAdjust="spacingAndGlyphs">44000.00</text>
<text x="1164.8" y="276" font-size="12" fill="#131722" font-weight="normal" text-anchor="start" textLength="49" lengthAdjust="spacingAndGlyphs">42000.00</text>
<text x="1164.8" y="318" font-size="12" fill="#131722" font-weight="normal" text-anchor="start" textLength="49" lengthAdjust="spacingAndGlyphs">40000.00</text>
<text x="1164.8" y="361" font-size="12" fill="#131722" font-weight="normal" text-anchor="start" textLength="49" lengthAdjust="spacingAndGlyphs">38000.00</text>
<text x="1164.8" y="404" font-size="12" fill="#131722" font-weight="normal" text-anchor="start" textLength="49" lengthAdjust="spacingAndGlyphs">36000.00</text>
<text x="1164.8" y="446" font-size="12" fill="#131722" font-weight="normal" text-anchor="start" textLength="49" lengthAdjust="spacingAndGlyphs">34000.00</text>
<text x="1164.8" y="489" font-size="12" fill="#131722" font-weight="normal" text-anchor="start" textLength="49" lengthAdjust="spacingAndGlyphs">32000.00</text>
<text x="1164.8" y="532" font-size="12" fill="#131722" font-weight="normal" text-anchor="start" textLength="49" lengthAdjust="spacingAndGlyphs">30000.00</text>
</g>
<rect x="1158" y="28" width="64" height="33" fill="#fff"/>
<rect x="1161.4" y="31" width="57.6" height="26" rx="4.5" fill="#fff" stroke="#e4e6ee" stroke-width="1.3"/>
<text x="1170" y="49" font-size="12" fill="#131722" font-weight="normal" text-anchor="start" textLength="27.5" lengthAdjust="spacingAndGlyphs">USDT</text>
<path d="M1157 185.0h60a2 2 0 0 1 2 2v13a2 2 0 0 1 -2 2h-60z" fill="#2962ff"/>
<text x="1165" y="198.0" font-size="12" fill="#fff" font-weight="bold" text-anchor="start" textLength="48.5" lengthAdjust="spacingAndGlyphs">45669.36</text>
<path d="M1157 247.0h60a2 2 0 0 1 2 2v13a2 2 0 0 1 -2 2h-60z" fill="#ff6d00"/>
<text x="1165" y="260.0" font-size="12" fill="#fff" font-weight="bold" text-anchor="start" textLength="48.5" lengthAdjust="spacingAndGlyphs">42126.05</text>
<path d="M1157 264.0h60a2 2 0 0 1 2 2v13a2 2 0 0 1 -2 2h-60z" fill="#f23645"/>
<text x="1165" y="277.0" font-size="12" fill="#fff" font-weight="bold" text-anchor="start" textLength="48.5" lengthAdjust="spacingAndGlyphs">41990.01</text>
<path d="M1157 336.0h60a2 2 0 0 1 2 2v13a2 2 0 0 1 -2 2h-60z" fill="#2962ff"/>
<text x="1165" y="349.0" font-size="12" fill="#fff" font-weight="bold" text-anchor="start" textLength="48.5" lengthAdjust="spacingAndGlyphs">38582.74</text>
<path d="M1157 504.0h54a2 2 0 0 1 2 2v13a2 2 0 0 1 -2 2h-54z" fill="#ef5350"/>
<text x="1165" y="517.0" font-size="12" fill="#fff" font-weight="bold" text-anchor="start" textLength="42.5" lengthAdjust="spacingAndGlyphs">11.717K</text>
<rect x="1098" y="264" width="58" height="17" rx="2" fill="#f23645"/>
<text x="1102.5" y="277" font-size="12" fill="#fff" font-weight="normal" text-anchor="start" textLength="48" lengthAdjust="spacingAndGlyphs">BTCUSDT</text>
<text x="81.6" y="547" font-size="12" fill="#131722" font-weight="normal" text-anchor="middle">Dec</text>
<text x="190.6" y="547" font-size="12" fill="#131722" font-weight="normal" text-anchor="middle">11</text>
<text x="278.6" y="547" font-size="12" fill="#131722" font-weight="normal" text-anchor="middle">19</text>
<text x="573.6" y="547" font-size="12" fill="#131722" font-weight="normal" text-anchor="middle">15</text>
<text x="660.6" y="547" font-size="12" fill="#131722" font-weight="normal" text-anchor="middle">23</text>
<text x="759.6" y="547" font-size="12" fill="#131722" font-weight="normal" text-anchor="middle">Feb</text>
<text x="879.6" y="547" font-size="12" fill="#131722" font-weight="normal" text-anchor="middle">12</text>
<text x="966.6" y="547" font-size="12" fill="#131722" font-weight="normal" text-anchor="middle">20</text>
<text x="1076.6" y="547" font-size="12" fill="#131722" font-weight="normal" text-anchor="middle">Mar</text>
<text x="420.6" y="547" font-size="12" fill="#131722" font-weight="bold" text-anchor="middle">2024</text>
<text x="9.62" y="19" font-size="12" fill="#131722" font-weight="normal" text-anchor="start" textLength="89.28" lengthAdjust="spacingAndGlyphs">Bitcoin_Analyzer</text>
<text x="103.32" y="19" font-size="12" fill="#131722" font-weight="normal" text-anchor="start" textLength="51.66" lengthAdjust="spacingAndGlyphs">published</text>
<text x="158.6" y="19" font-size="12" fill="#131722" font-weight="normal" text-anchor="start" textLength="13.28" lengthAdjust="spacingAndGlyphs">on</text>
<text x="175.93" y="19" font-size="12" fill="#131722" font-weight="normal" text-anchor="start" textLength="94.53" lengthAdjust="spacingAndGlyphs">TradingView.com,</text>
<text x="274.32" y="19" font-size="12" fill="#131722" font-weight="normal" text-anchor="start" textLength="18.32" lengthAdjust="spacingAndGlyphs">Jan</text>
<text x="296.42" y="19" font-size="12" fill="#131722" font-weight="normal" text-anchor="start" textLength="16.13" lengthAdjust="spacingAndGlyphs">29,</text>
<text x="316.84" y="19" font-size="12" fill="#131722" font-weight="normal" text-anchor="start" textLength="24.79" lengthAdjust="spacingAndGlyphs">2024</text>
<text x="346.84" y="19" font-size="12" fill="#131722" font-weight="normal" text-anchor="start" textLength="28.15" lengthAdjust="spacingAndGlyphs">16:48</text>
<text x="378.26" y="19" font-size="12" fill="#131722" font-weight="normal" text-anchor="start" textLength="34.72" lengthAdjust="spacingAndGlyphs">UTC+3</text>
<text x="17.36" y="45.5" font-size="12" fill="#131722" font-weight="normal" text-anchor="start" textLength="38.06" lengthAdjust="spacingAndGlyphs">Bitcoin</text>
<text x="60.3" y="45.5" font-size="12" fill="#131722" font-weight="normal" text-anchor="start" textLength="3.2" lengthAdjust="spacingAndGlyphs">/</text>
<text x="69.76" y="45.5" font-size="12" fill="#131722" font-weight="normal" text-anchor="start" textLength="48.29" lengthAdjust="spacingAndGlyphs">TetherUS,</text>
<text x="124.69" y="45.5" font-size="12" fill="#131722" font-weight="normal" text-anchor="start" textLength="16.06" lengthAdjust="spacingAndGlyphs">1D,</text>
<text x="146.61" y="45.5" font-size="12" fill="#131722" font-weight="normal" text-anchor="start" textLength="45.88" lengthAdjust="spacingAndGlyphs">BINANCE</text>
<text x="199.54" y="45.5" font-size="12" fill="#131722" font-weight="normal" text-anchor="start" textLength="8.03" lengthAdjust="spacingAndGlyphs">O</text>
<text x="263.3" y="45.5" font-size="12" fill="#131722" font-weight="normal" text-anchor="start" textLength="8.79" lengthAdjust="spacingAndGlyphs">H</text>
<text x="326.93" y="45.5" font-size="12" fill="#131722" font-weight="normal" text-anchor="start" textLength="6.56" lengthAdjust="spacingAndGlyphs">L</text>
<text x="388.56" y="45.5" font-size="12" fill="#131722" font-weight="normal" text-anchor="start" textLength="7.45" lengthAdjust="spacingAndGlyphs">C</text>
<text x="207.53" y="45.5" font-size="12" fill="#f23645" font-weight="normal" text-anchor="start" textLength="49.17" lengthAdjust="spacingAndGlyphs">42031.05</text>
<text x="271.63" y="45.5" font-size="12" fill="#f23645" font-weight="normal" text-anchor="start" textLength="48.62" lengthAdjust="spacingAndGlyphs">42504.00</text>
<text x="333.73" y="45.5" font-size="12" fill="#f23645" font-weight="normal" text-anchor="start" textLength="48.31" lengthAdjust="spacingAndGlyphs">41874.94</text>
<text x="396.13" y="45.5" font-size="12" fill="#f23645" font-weight="normal" text-anchor="start" textLength="48.23" lengthAdjust="spacingAndGlyphs">41990.01</text>
<text x="452.44" y="45.5" font-size="12" fill="#f23645" font-weight="normal" text-anchor="start" textLength="35.14" lengthAdjust="spacingAndGlyphs">−41.05</text>
<text x="491.81" y="45.5" font-size="12" fill="#f23645" font-weight="normal" text-anchor="start" textLength="45.58" lengthAdjust="spacingAndGlyphs">(−0.10%)</text>
<text x="18.35" y="62.5" font-size="12" fill="#131722" font-weight="normal" text-anchor="start" textLength="15.88" lengthAdjust="spacingAndGlyphs">Vol</text>
<text x="37.77" y="62.5" font-size="12" fill="#131722" font-weight="normal" text-anchor="start" textLength="4.48" lengthAdjust="spacingAndGlyphs">·</text>
<text x="45.11" y="62.5" font-size="12" fill="#131722" font-weight="normal" text-anchor="start" textLength="21.6" lengthAdjust="spacingAndGlyphs">BTC</text>
<text x="74.02" y="62.5" font-size="12" fill="#ef5350" font-weight="normal" text-anchor="start" textLength="43.21" lengthAdjust="spacingAndGlyphs">11.717K</text>
<text x="17.53" y="79.7" font-size="12" fill="#131722" font-weight="normal" text-anchor="start" textLength="14.13" lengthAdjust="spacingAndGlyphs">BB</text>
<text x="36.1" y="79.7" font-size="12" fill="#131722" font-weight="normal" text-anchor="start" textLength="19.52" lengthAdjust="spacingAndGlyphs">(20,</text>
<text x="59.81" y="79.7" font-size="12" fill="#131722" font-weight="normal" text-anchor="start" textLength="25.23" lengthAdjust="spacingAndGlyphs">SMA,</text>
<text x="89.04" y="79.7" font-size="12" fill="#131722" font-weight="normal" text-anchor="start" textLength="28.12" lengthAdjust="spacingAndGlyphs">close,</text>
<text x="124.5" y="79.7" font-size="12" fill="#131722" font-weight="normal" text-anchor="start" textLength="8.61" lengthAdjust="spacingAndGlyphs">2,</text>
<text x="138.81" y="79.7" font-size="12" fill="#131722" font-weight="normal" text-anchor="start" textLength="11.17" lengthAdjust="spacingAndGlyphs">0)</text>
<text x="157.03" y="79.7" font-size="12" fill="#ff6d00" font-weight="normal" text-anchor="start" textLength="48.56" lengthAdjust="spacingAndGlyphs">42126.05</text>
<text x="212.93" y="79.7" font-size="12" fill="#2962ff" font-weight="normal" text-anchor="start" textLength="48.48" lengthAdjust="spacingAndGlyphs">45669.36</text>
<text x="268.55" y="79.7" font-size="12" fill="#2962ff" font-weight="normal" text-anchor="start" textLength="48.79" lengthAdjust="spacingAndGlyphs">38582.74</text>
<g transform="translate(10,567.05) scale(0.54)" fill="#131722"><path d="M14 22H7V11H0V4h14v18z"/><path d="M28 22h-8l7.5-18h8L28 22z"/><circle cx="20" cy="8" r="4"/></g>
<text x="33" y="578.7" font-size="13" fill="#131722" font-weight="normal" text-anchor="start" textLength="70.5" lengthAdjust="spacingAndGlyphs">TradingView</text>
</svg>
</body></html>
